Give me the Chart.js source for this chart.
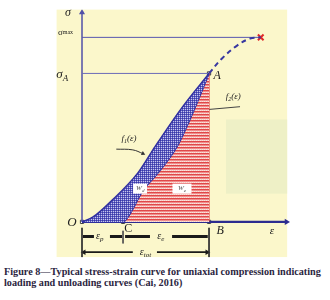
<!DOCTYPE html>
<html>
<head>
<meta charset="utf-8">
<script src="https://cdn.jsdelivr.net/npm/chart.js@4.4.0/dist/chart.umd.min.js"></script>
<style>
  body { margin: 0; background: #fff; }
  #wrap { position: relative; width: 330px; height: 300px; }
  #cv { position: absolute; left: 0; top: 0; }
  .cap { position: absolute; left: 4px; font: bold 10.2px "Liberation Serif", serif; color: #2b2540; white-space: nowrap; }
</style>
</head>
<body>
<div id="wrap">
  <canvas id="cv" width="330" height="265"></canvas>
  <div class="cap" style="top:266px">Figure 8—Typical stress-strain curve for uniaxial compression indicating</div>
  <div class="cap" style="top:277px">loading and unloading curves (Cai, 2016)</div>
</div>
<script>
// loading curve f1 (strain, stress), sigma_A = 1, strain at B = 1
const strainF1 = [0, 0.087, 0.236, 0.44, 0.575, 0.787, 1];
const stressF1 = [0, 0.033, 0.145, 0.33, 0.507, 0.770, 1];
// unloading curve f2, starts at O along axis then from C
const strainF2 = [0, 0.323, 0.362, 0.48, 0.591, 0.748, 0.89, 1];
const stressF2 = [0, 0, 0.033, 0.211, 0.322, 0.507, 0.770, 1];
// dashed part after A up to failure
const strainPost = [1, 1.10, 1.218, 1.323, 1.407];
const stressPost = [1, 1.099, 1.186, 1.235, 1.243];

const sigmaA = 1;
const sigmaMax = 1.243;
const strainC = 0.323;
const strainB = 1;

const pts = (xs, ys) => xs.map((x, i) => ({x: x, y: ys[i]}));

function makePattern(rows) {
  const c = document.createElement('canvas');
  c.width = rows[0].length; c.height = rows.length;
  const g = c.getContext('2d');
  rows.forEach((r, j) => r.forEach((col, i) => { g.fillStyle = col; g.fillRect(i, j, 1, 1); }));
  return g.createPattern(c, 'repeat');
}
const blueHatch = makePattern([['#3a3aa6', '#5a5ac0'], ['#5a5ac0', '#c8c8ec']]);
const redHatch = makePattern([['#e04848', '#e04848'], ['#ee8a8a', '#f09090'], ['#fbe2dc', '#f4c8c0']]);

const labels = [
  ['σ', -0.11, 1.405, 'italic 12px "Liberation Serif"', ''],
  ['σ', -0.13, 1.276, '9px "Liberation Serif"', 'max'],
  ['σ', -0.155, 0.993, 'italic 13px "Liberation Serif"', 'A'],
  ['A', 1.065, 0.987, 'italic 12px "Liberation Serif"', ''],
  ['O', -0.079, -0.007, 'italic 13px "Liberation Serif"', ''],
  ['C', 0.365, -0.046, '12px "Liberation Serif"', ''],
  ['B', 1.087, -0.059, 'italic 12px "Liberation Serif"', ''],
  ['ε', 1.496, -0.059, 'italic 11px "Liberation Serif"', ''],
  ['f', 0.37, 0.56, 'italic 9px "Liberation Serif"', '1', '(ε)'],
  ['f', 1.19, 0.842, 'italic 9px "Liberation Serif"', '2', '(ε)'],
  ['ε', 0.14, -0.099, 'italic 10px "Liberation Serif"', 'p'],
  ['ε', 0.62, -0.099, 'italic 10px "Liberation Serif"', 'e'],
  ['ε', 0.50, -0.204, 'italic 10px "Liberation Serif"', 'tot']
];
const boxes = [['W', 'd', 0.457, 0.224, 14], ['W', 'e', 0.787, 0.224, 19]];

const dimRow1 = -0.099, dimRow2 = -0.204;
const dashSegs = [[0.008, 0.094], [0.22, 0.315], [0.339, 0.535], [0.709, 0.99]];
const dashData = [];
dashSegs.forEach(s => { dashData.push({x: s[0], y: dimRow1}, {x: s[1], y: dimRow1}, {x: (s[1] + 0.01), y: null}); });

const panel = {
  id: 'panel',
  beforeDraw(chart) {
    const {ctx, scales: {x, y}} = chart;
    ctx.save();
    ctx.fillStyle = '#fbf7cb';
    ctx.fillRect(x.getPixelForValue(-0.2), y.getPixelForValue(1.43), x.getPixelForValue(1.615) - x.getPixelForValue(-0.2), y.getPixelForValue(-0.237) - y.getPixelForValue(1.43));
    ctx.fillStyle = '#eef0c6';
    ctx.fillRect(x.getPixelForValue(1.134), y.getPixelForValue(0.69), x.getPixelForValue(1.615) - x.getPixelForValue(1.134), y.getPixelForValue(0.19) - y.getPixelForValue(0.69));
    ctx.restore();
  },
  afterDatasetsDraw(chart) {
    const {ctx, scales: {x, y}} = chart;
    ctx.save();
    ctx.textBaseline = 'middle';
    boxes.forEach(b => {
      const px = x.getPixelForValue(b[2]), py = y.getPixelForValue(b[3]);
      ctx.fillStyle = '#fff';
      ctx.fillRect(px - b[4] / 2, py - 5, b[4], 10);
      ctx.fillStyle = '#555';
      ctx.font = 'italic 7px "Liberation Serif"';
      ctx.textAlign = 'left';
      const w = ctx.measureText(b[0]).width;
      ctx.fillText(b[0], px - 4, py);
      ctx.font = 'italic 5px "Liberation Serif"';
      ctx.fillText(b[1], px - 4 + w, py + 2);
    });
    labels.forEach(l => {
      const px = x.getPixelForValue(l[1]), py = y.getPixelForValue(l[2]);
      ctx.fillStyle = '#222';
      ctx.font = l[3];
      ctx.textAlign = 'left';
      const w = ctx.measureText(l[0]).width;
      const size = parseFloat(l[3].match(/(\d+)px/)[1]);
      const subFont = l[3].replace(/\d+px/, Math.round(size * 0.7) + 'px');
      ctx.font = subFont;
      const ws = l[4] ? ctx.measureText(l[4]).width : 0;
      ctx.font = l[3];
      const w3 = l[5] ? ctx.measureText(l[5]).width : 0;
      const sx = px - (w + ws + w3) / 2;
      ctx.fillText(l[0], sx, py);
      if (l[4]) {
        ctx.font = subFont;
        ctx.fillText(l[4], sx + w, py + (l[4] === 'max' ? 0 : size * 0.3));
      }
      if (l[5]) { ctx.font = l[3]; ctx.fillText(l[5], sx + w + ws, py); }
    });
    ctx.restore();
  }
};

const navy = '#2c2c90';
const line = (data, color, width, extra) => Object.assign({data: data, borderColor: color, borderWidth: width, pointRadius: 0, fill: false, tension: 0}, extra || {});

new Chart(document.getElementById('cv'), {
  type: 'line',
  data: {
    datasets: [
      line(pts(strainF1, stressF1), '#3030a0', 1.5, {fill: '+1', backgroundColor: blueHatch, cubicInterpolationMode: 'monotone'}),
      line(pts(strainF2, stressF2), '#3030a0', 1.5, {fill: 'origin', backgroundColor: redHatch, cubicInterpolationMode: 'monotone'}),
      line([{x: strainB, y: 0}, {x: strainB, y: sigmaA}], '#e03a3a', 1),
      line(pts(strainPost, stressPost), '#3838a0', 2, {borderDash: [5, 4], tension: 0.4}),
      line([{x: 0, y: sigmaMax}, {x: strainPost[strainPost.length - 1], y: sigmaMax}], '#5656b0', 1),
      line([{x: 0, y: sigmaA}, {x: strainB, y: sigmaA}], '#6a6ab8', 1),
      line([{x: 0, y: 0}, {x: 0, y: 1.41}], '#5050a8', 1.5, {pointRadius: [0, 3.5], pointStyle: 'triangle', pointBackgroundColor: '#5050a8', pointBorderWidth: 0}),
      line([{x: 0, y: 0}, {x: 1.61, y: 0}], navy, 2.2, {pointRadius: [0, 3.5], pointStyle: 'triangle', pointRotation: 90, pointBackgroundColor: navy, pointBorderWidth: 0}),
      line([{x: strainPost[strainPost.length - 1], y: sigmaMax}], '#e02828', 2, {pointRadius: 4, pointStyle: 'crossRot', pointBorderWidth: 2}),
      line([{x: 0, y: 0}, {x: strainC, y: 0}, {x: strainB, y: 0}, {x: strainB, y: sigmaA}], 'rgba(0,0,0,0)', 0, {showLine: false, pointRadius: 2.3, pointStyle: 'rect', pointBackgroundColor: '#fff', pointBorderColor: '#444', pointBorderWidth: 1}),
      // dimension lines
      line(dashData, '#1a1a1a', 3, {spanGaps: false}),
      line([{x: 0, y: -0.04}, {x: 0, y: -0.237}], '#333', 1),
      line([{x: strainB, y: -0.04}, {x: strainB, y: -0.237}], '#333', 1),
      line([{x: strainC, y: -0.06}, {x: strainC, y: -0.145}], '#555', 1),
      line([{x: 0.4, y: dimRow2}, {x: 0.015, y: dimRow2}], '#1a1a1a', 1.8, {pointRadius: [0, 3.2], pointStyle: 'triangle', pointRotation: 270, pointBackgroundColor: '#1a1a1a', pointBorderWidth: 0}),
      line([{x: 0.59, y: dimRow2}, {x: 0.985, y: dimRow2}], '#1a1a1a', 1.8, {pointRadius: [0, 3.2], pointStyle: 'triangle', pointRotation: 90, pointBackgroundColor: '#1a1a1a', pointBorderWidth: 0}),
      // leader arrows to the curves
      line([{x: 0.27, y: 0.49}, {x: 0.40, y: 0.485}, {x: 0.48, y: 0.46}], '#333', 1, {tension: 0.4, pointRadius: [0, 0, 2.5], pointStyle: 'triangle', pointRotation: 115, pointBackgroundColor: '#333', pointBorderWidth: 0}),
      line([{x: 1.244, y: 0.776}, {x: 0.90, y: 0.75}], '#444', 1, {pointRadius: [0, 2.5], pointStyle: 'triangle', pointRotation: 265, pointBackgroundColor: '#444', pointBorderWidth: 0})
    ]
  },
  options: {
    responsive: false,
    animation: false,
    layout: {padding: {left: 56.6, right: 38.4, top: 9.6, bottom: 0}},
    plugins: {legend: {display: false}, tooltip: {enabled: false}},
    scales: {
      x: {type: 'linear', min: -0.2, max: 1.65, display: false},
      y: {type: 'linear', min: -0.25, max: 1.43, display: false}
    }
  },
  plugins: [panel]
});
</script>
</body>
</html>
